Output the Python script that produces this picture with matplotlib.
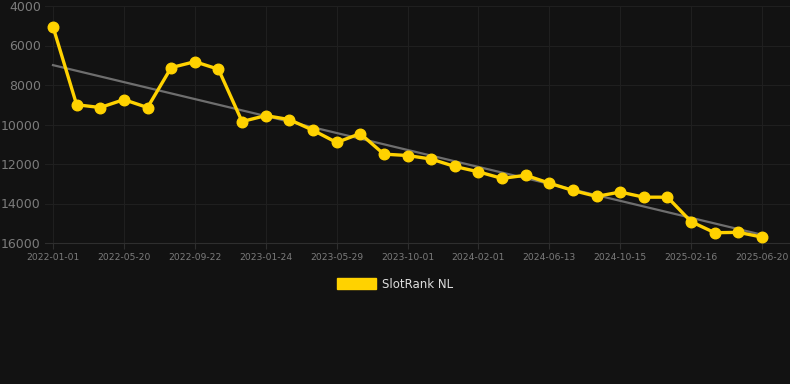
import numpy as np
import matplotlib
matplotlib.use("Agg")
import matplotlib.pyplot as plt
from matplotlib.patches import Patch

# rank values (lower on the chart = worse), one per sample
ranks = [5050, 9000, 9140, 8740, 9140, 7120, 6820, 7200, 9850, 9550,
         9750, 10290, 10910, 10460, 11500, 11570, 11750, 12125, 12395, 12730,
         12570, 12970, 13340, 13640, 13420, 13680, 13680, 14920, 15480, 15460,
         15700]
tick_labels = ["2022-01-01", "2022-05-20", "2022-09-22", "2023-01-24", "2023-05-29",
               "2023-10-01", "2024-02-01", "2024-06-13", "2024-10-15", "2025-02-16",
               "2025-06-20"]
y_ticks = [4000, 6000, 8000, 10000, 12000, 14000, 16000]
series_name = "SlotRank NL"

bg = "#121212"
yellow = "#ffd200"

x = np.arange(len(ranks))
slope, icpt = np.polyfit(x, ranks, 1)

fig = plt.figure(figsize=(7.9, 3.84), dpi=100, facecolor=bg)
ax = fig.add_axes([45 / 790, 1 - 243 / 384, 1 - 45 / 790, (243 - 6) / 384])
ax.set_facecolor(bg)

ax.plot(x, slope * x + icpt, color="#6e6e6e", lw=1.6, zorder=2)
ax.plot(x, ranks, color=yellow, lw=2.4, marker="o", ms=7.6, zorder=3)

px = 709 / 30
ax.set_xlim(-(53 - 45) / px, 30 + (790 - 762) / px)
ax.set_ylim(16000, 4000)
ax.set_yticks(y_ticks)
ax.set_yticklabels([str(v) for v in y_ticks])
ax.set_xticks(x[::3])
ax.set_xticklabels(tick_labels)

ax.grid(True, color="#1f1f1f", lw=0.8)
ax.set_axisbelow(True)
for s in ["top", "right", "left"]:
    ax.spines[s].set_visible(False)
ax.spines["bottom"].set_color("#2e2e2e")
ax.tick_params(axis="y", length=0, colors="#7c7c7c", labelsize=9, pad=3)
ax.tick_params(axis="x", length=4, color="#2e2e2e", colors="#7c7c7c", labelsize=6.6, pad=3)

handle = Patch(facecolor=yellow, edgecolor=yellow)
fig.legend([handle], [series_name], loc="center", bbox_to_anchor=(0.5, 1 - 284 / 384),
           frameon=False, fontsize=8.5, labelcolor="#dddddd",
           handlelength=3.3, handleheight=1.0, handletextpad=0.5)

fig.savefig("out.png", dpi=100, facecolor=bg)
